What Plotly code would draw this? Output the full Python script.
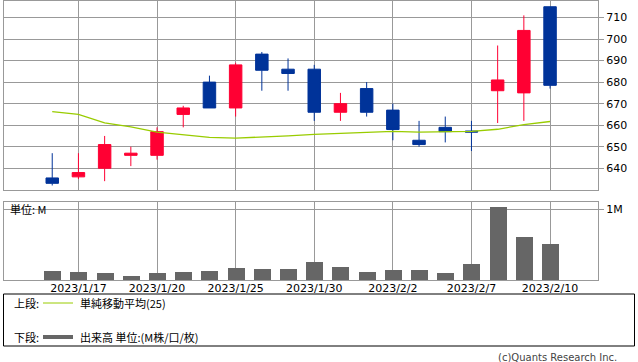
import plotly.graph_objects as go

# ---- data ----
dates = ["2023/1/16", "2023/1/17", "2023/1/18", "2023/1/19", "2023/1/20",
         "2023/1/23", "2023/1/24", "2023/1/25", "2023/1/26", "2023/1/27",
         "2023/1/30", "2023/1/31", "2023/2/1", "2023/2/2", "2023/2/3",
         "2023/2/6", "2023/2/7", "2023/2/8", "2023/2/9", "2023/2/10"]
opens = [635.5, 636, 640, 646, 646, 665, 680, 668, 693, 686,
         686, 666, 677, 667, 653, 659, 657.3, 676, 675, 715]
highs = [647, 647, 655, 650, 659, 669, 683, 689, 694, 691,
         688, 675, 680, 670, 662, 664, 662, 697, 711, 715]
lows = [632, 635, 634, 641, 644, 659, 668, 664, 676, 676,
        662, 662, 664, 653, 650, 652, 648, 661, 662, 677]
closes = [633, 638, 651, 647, 657, 668, 668, 688, 685.5, 684,
          666, 670, 666, 658, 651, 657, 656.8, 681, 704, 678.5]
ma25 = [666.3, 665.0, 661.1, 659.2, 656.8, 655.5, 654.3, 654.0, 654.4, 655.0,
        655.7, 656.2, 656.8, 657.1, 656.8, 657.1, 657.1, 658.1, 660.3, 661.7]
volume = [0.127e6, 0.113e6, 0.099e6, 0.056e6, 0.099e6, 0.113e6, 0.127e6, 0.169e6, 0.155e6, 0.155e6,
          0.254e6, 0.183e6, 0.113e6, 0.141e6, 0.141e6, 0.099e6, 0.225e6, 1.03e6, 0.606e6, 0.507e6]
tick_idx = [1, 4, 7, 10, 13, 16, 19]
price_ticks = [640, 650, 660, 670, 680, 690, 700, 710]

idx = list(range(len(dates)))
tick_text = [dates[i] for i in tick_idx]

W, H = 638, 362
def fx(px):
    return px / W
def fy(py):
    return 1 - py / H

RED = "#ff0033"
BLUE = "#003399"
GREEN = "#99cc00"
GRID = "#999999"
VOL = "#666666"

fig = go.Figure()
fig.add_trace(go.Candlestick(
    x=idx, open=opens, high=highs, low=lows, close=closes,
    increasing=dict(line=dict(color=RED, width=1), fillcolor=RED),
    decreasing=dict(line=dict(color=BLUE, width=1), fillcolor=BLUE),
    xaxis="x", yaxis="y", showlegend=False, hoverinfo="skip"))
fig.add_trace(go.Scatter(
    x=idx, y=ma25, mode="lines", line=dict(color=GREEN, width=1.3),
    xaxis="x", yaxis="y", showlegend=False, hoverinfo="skip"))
fig.add_trace(go.Bar(
    x=idx, y=volume, marker=dict(color=VOL, line=dict(width=0)), width=0.65,
    xaxis="x2", yaxis="y2", showlegend=False, hoverinfo="skip"))

xdom = [fx(3.5), fx(598)]
xrange_ = [-1.86, 20.83]
tickfont = dict(family="DejaVu Sans", size=11, color="#000000")

common_x = dict(domain=xdom, range=xrange_, tickmode="array", tickvals=tick_idx,
                showgrid=True, gridcolor=GRID, gridwidth=1, zeroline=False,
                showline=True, mirror=True, linecolor=GRID, linewidth=1,
                ticks="", fixedrange=True)

fig.update_layout(
    width=W, height=H,
    margin=dict(l=0, r=0, t=0, b=0),
    paper_bgcolor="white", plot_bgcolor="white",
    hovermode=False, bargap=0, boxgap=0.32,
    xaxis=dict(**common_x, anchor="y", showticklabels=False,
               rangeslider=dict(visible=False)),
    yaxis=dict(domain=[fy(190), fy(0.5)], range=[629.9, 717.9], side="right",
               tickmode="array", tickvals=price_ticks,
               ticks="outside", ticklen=5, tickcolor=GRID,
               showgrid=True, gridcolor=GRID, zeroline=False,
               showline=True, mirror=True, linecolor=GRID,
               tickfont=dict(family="DejaVu Sans", size=11, color="#000"),
               anchor="x", fixedrange=True),
    xaxis2=dict(**common_x, anchor="y2", ticktext=tick_text, showticklabels=True,
                tickfont=tickfont, ticklabelstandoff=-2),
    yaxis2=dict(domain=[fy(280), fy(201.7)], range=[0, 1.103e6], side="right",
                tickmode="array", tickvals=[1e6], ticktext=["1M"],
                ticks="outside", ticklen=5, tickcolor=GRID,
                showgrid=True, gridcolor=GRID, zeroline=False,
                showline=True, mirror=True, linecolor=GRID,
                tickfont=dict(family="DejaVu Sans", size=11, color="#000"),
                anchor="x2", fixedrange=True),
)

cjk = "Noto Sans CJK JP"
ann = []
ann.append(dict(text="単位: M", x=fx(8), y=fy(209), xref="paper", yref="paper",
                xanchor="left", yanchor="middle", showarrow=False,
                font=dict(family=cjk, size=11, color="#000")))
ann.append(dict(text="上段:", x=fx(12), y=fy(303), xref="paper", yref="paper",
                xanchor="left", yanchor="middle", showarrow=False,
                font=dict(family=cjk, size=11, color="#000")))
ann.append(dict(text="単純移動平均(25)", x=fx(78), y=fy(303), xref="paper", yref="paper",
                xanchor="left", yanchor="middle", showarrow=False,
                font=dict(family=cjk, size=11, color="#000")))
ann.append(dict(text="下段:", x=fx(12), y=fy(337), xref="paper", yref="paper",
                xanchor="left", yanchor="middle", showarrow=False,
                font=dict(family=cjk, size=11, color="#000")))
ann.append(dict(text="出来高 単位:(M株/口/枚)", x=fx(78), y=fy(337), xref="paper", yref="paper",
                xanchor="left", yanchor="middle", showarrow=False,
                font=dict(family=cjk, size=11, color="#000")))
ann.append(dict(text="(c)Quants Research Inc.", x=fx(619), y=fy(357), xref="paper", yref="paper",
                xanchor="right", yanchor="middle", showarrow=False,
                font=dict(family="DejaVu Sans", size=10, color="#444")))

shapes = [
    dict(type="rect", xref="paper", yref="paper", x0=fx(3.5), x1=fx(634.5),
         y0=fy(346), y1=fy(294), line=dict(color="#000", width=1), fillcolor="rgba(0,0,0,0)"),
    dict(type="line", xref="paper", yref="paper", x0=fx(43), x1=fx(73),
         y0=fy(303), y1=fy(303), line=dict(color=GREEN, width=1)),
    dict(type="line", xref="paper", yref="paper", x0=fx(43), x1=fx(73),
         y0=fy(337), y1=fy(337), line=dict(color=VOL, width=4)),
]
fig.update_layout(annotations=ann, shapes=shapes)

fig.write_html("out.html", config={"displayModeBar": False})
